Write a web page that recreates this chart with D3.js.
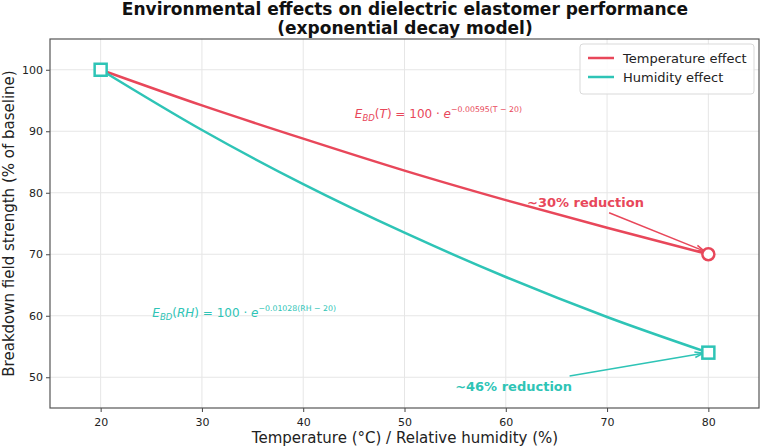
<!DOCTYPE html>
<html>
<head>
<meta charset="utf-8">
<script src="https://cdn.jsdelivr.net/npm/d3@7"></script>
<style>
  body { margin: 0; background: #fff; }
  text { font-family: "DejaVu Sans", sans-serif; }
</style>
</head>
<body>
<svg width="761" height="447"></svg>
<script>
const w = 761, h = 447;
const margin = {top: 39, right: 1, bottom: 39, left: 50};

// data
const xs = [20, 30, 40, 50, 60, 70, 80];
const tempVals = [100, 94.2, 88.8, 83.6, 78.8, 74.3, 70.0];
const humVals = [100, 90.2, 81.4, 73.5, 66.3, 59.8, 54.0];
const xTicks = [20, 30, 40, 50, 60, 70, 80];
const yTicks = [50, 60, 70, 80, 90, 100];
const seriesNames = ['Temperature effect', 'Humidity effect'];

const red = '#e8475a';
const teal = '#2ec4b6';

const svg = d3.select('svg');

const x = d3.scaleLinear().domain([15, 85]).range([margin.left, w - margin.right - 1]);
const y = d3.scaleLinear().domain([45, 105]).range([h - margin.bottom, margin.top]);

// grid
svg.append('g').selectAll('line').data(xTicks).enter().append('line')
  .attr('x1', d => x(d)).attr('x2', d => x(d))
  .attr('y1', y(45)).attr('y2', y(105))
  .attr('stroke', '#e6e6e6').attr('stroke-width', 1);
svg.append('g').selectAll('line').data(yTicks).enter().append('line')
  .attr('x1', x(15)).attr('x2', x(85))
  .attr('y1', d => y(d)).attr('y2', d => y(d))
  .attr('stroke', '#e6e6e6').attr('stroke-width', 1);

// axes
const xAxis = svg.append('g')
  .attr('transform', 'translate(0,' + y(45) + ')')
  .call(d3.axisBottom(x).tickValues(xTicks).tickSize(4).tickSizeOuter(0));
const yAxis = svg.append('g')
  .attr('transform', 'translate(' + x(15) + ',0)')
  .call(d3.axisLeft(y).tickValues(yTicks).tickSize(4).tickSizeOuter(0));
[xAxis, yAxis].forEach(a => {
  a.select('.domain').remove();
  a.selectAll('text').attr('font-size', 11).attr('fill', '#222')
    .attr('font-family', '"DejaVu Sans", sans-serif');
  a.selectAll('line').attr('stroke', '#444');
});
xAxis.selectAll('text').attr('dy', '1.0em');

// frame
svg.append('rect')
  .attr('x', x(15)).attr('y', y(105))
  .attr('width', x(85) - x(15)).attr('height', y(45) - y(105))
  .attr('fill', 'none').attr('stroke', '#555').attr('stroke-width', 1.2);

// lines
const line = d3.line().x(d => x(d[0])).y(d => y(d[1])).curve(d3.curveMonotoneX);
const tempData = xs.map((d, i) => [d, tempVals[i]]);
const humData = xs.map((d, i) => [d, humVals[i]]);

svg.append('path').datum(tempData).attr('d', line)
  .attr('fill', 'none').attr('stroke', red).attr('stroke-width', 2.5);
svg.append('path').datum(humData).attr('d', line)
  .attr('fill', 'none').attr('stroke', teal).attr('stroke-width', 2.5);

// annotation arrows
function arrow(x1, y1, x2, y2, color) {
  svg.append('line')
    .attr('x1', x1).attr('y1', y1).attr('x2', x2).attr('y2', y2)
    .attr('stroke', color).attr('stroke-width', 1.5);
  const ang = Math.atan2(y2 - y1, x2 - x1);
  const L = 9, a = 0.32;
  const p = [
    [x2, y2],
    [x2 - L * Math.cos(ang - a), y2 - L * Math.sin(ang - a)],
    [x2 - L * Math.cos(ang + a), y2 - L * Math.sin(ang + a)]
  ];
  svg.append('polyline')
    .attr('points', [p[1], p[0], p[2]].map(q => q.join(',')).join(' '))
    .attr('fill', 'none').attr('stroke', color).attr('stroke-width', 1.5);
}
arrow(x(70.2), y(76.75), x(79.6), y(70.5), red);
arrow(x(66.3), y(50.2), x(79.5), y(53.9), teal);

// markers
svg.append('circle')
  .attr('cx', x(xs[xs.length - 1])).attr('cy', y(tempVals[tempVals.length - 1]))
  .attr('r', 6).attr('fill', '#fff').attr('stroke', red).attr('stroke-width', 2.5);
svg.append('rect')
  .attr('x', x(xs[xs.length - 1]) - 6).attr('y', y(humVals[humVals.length - 1]) - 6)
  .attr('width', 12).attr('height', 12)
  .attr('fill', '#fff').attr('stroke', teal).attr('stroke-width', 2.5);
svg.append('rect')
  .attr('x', x(xs[0]) - 6).attr('y', y(humVals[0]) - 6)
  .attr('width', 12).attr('height', 12)
  .attr('fill', '#fff').attr('stroke', teal).attr('stroke-width', 2.5);

// annotation labels
svg.append('text').attr('x', x(62.1)).attr('y', y(78.5) + 5)
  .attr('font-size', 13).attr('font-weight', 'bold').attr('fill', red)
  .text('~30% reduction');
svg.append('text').attr('x', x(55)).attr('y', y(48.6) + 5)
  .attr('font-size', 13).attr('font-weight', 'bold').attr('fill', teal)
  .text('~46% reduction');

// formulas
function formula(xp, yp, color, arg, exp) {
  const t = svg.append('text').attr('x', xp).attr('y', yp)
    .attr('font-size', 12).attr('fill', color);
  t.append('tspan').attr('font-style', 'italic').text('E');
  t.append('tspan').attr('font-style', 'italic').attr('font-size', 8.5).attr('dy', 3).text('BD');
  t.append('tspan').attr('dy', -3).text('(');
  t.append('tspan').attr('font-style', 'italic').text(arg);
  t.append('tspan').text(') = 100 · ');
  t.append('tspan').attr('font-style', 'italic').text('e');
  t.append('tspan').attr('font-size', 7.8).attr('dy', -6).text(exp);
}
formula(x(45.1), y(92.8) + 4, red, 'T', '−0.00595(T − 20)');
formula(x(25.1), y(60.5) + 4, teal, 'RH', '−0.01028(RH − 20)');

// legend
const lg = svg.append('g').attr('transform', 'translate(580,44)');
lg.append('rect').attr('width', 174).attr('height', 50).attr('rx', 3)
  .attr('fill', '#fff').attr('fill-opacity', 0.85).attr('stroke', '#d9d9d9');
lg.selectAll('line.key').data(seriesNames).enter().append('line')
  .attr('x1', 8).attr('x2', 34)
  .attr('y1', (d, i) => 14 + i * 19).attr('y2', (d, i) => 14 + i * 19)
  .attr('stroke', (d, i) => i === 0 ? red : teal).attr('stroke-width', 2.5);
lg.selectAll('text').data(seriesNames).enter().append('text')
  .attr('x', 43).attr('y', (d, i) => 18.5 + i * 19)
  .attr('font-size', 13).attr('fill', '#222')
  .text(d => d);

// titles
svg.append('text').attr('x', 405).attr('y', 15).attr('text-anchor', 'middle')
  .attr('font-size', 17).attr('font-weight', 'bold').attr('fill', '#111')
  .text('Environmental effects on dielectric elastomer performance');
svg.append('text').attr('x', 405).attr('y', 34).attr('text-anchor', 'middle')
  .attr('font-size', 17).attr('font-weight', 'bold').attr('fill', '#111')
  .text('(exponential decay model)');

svg.append('text').attr('x', 405).attr('y', 443).attr('text-anchor', 'middle')
  .attr('font-size', 15).attr('fill', '#222')
  .text('Temperature (°C) / Relative humidity (%)');
svg.append('text')
  .attr('transform', 'translate(14,' + ((y(45) + y(105)) / 2) + ') rotate(-90)')
  .attr('text-anchor', 'middle')
  .attr('font-size', 15).attr('fill', '#222')
  .text('Breakdown field strength (% of baseline)');
</script>
</body>
</html>
